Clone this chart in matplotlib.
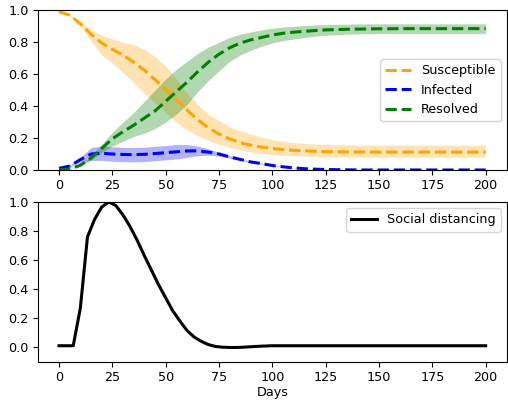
import numpy as np
import matplotlib
matplotlib.use("Agg")
import matplotlib.pyplot as plt

# ---- data ----
days = list(range(0, 205, 5))

susceptible = [0.99, 0.97, 0.915, 0.85, 0.795, 0.755, 0.72, 0.675, 0.625, 0.565,
               0.505, 0.44, 0.375, 0.315, 0.265, 0.225, 0.195, 0.17, 0.155, 0.143,
               0.135, 0.128, 0.123, 0.12, 0.117, 0.115, 0.114, 0.113, 0.113, 0.112,
               0.112, 0.112, 0.112, 0.112, 0.112, 0.112, 0.112, 0.112, 0.112, 0.112, 0.112]
susceptible_hi = [0.99, 0.975, 0.93, 0.88, 0.845, 0.82, 0.80, 0.785, 0.755, 0.71,
                  0.65, 0.57, 0.48, 0.41, 0.35, 0.31, 0.27, 0.245, 0.225, 0.205,
                  0.19, 0.18, 0.172, 0.166, 0.162, 0.16, 0.158, 0.157, 0.156, 0.155,
                  0.155, 0.155, 0.155, 0.155, 0.155, 0.155, 0.155, 0.155, 0.155, 0.155, 0.155]
susceptible_lo = [0.99, 0.965, 0.90, 0.81, 0.72, 0.67, 0.61, 0.55, 0.48, 0.42,
                  0.36, 0.30, 0.25, 0.215, 0.185, 0.16, 0.142, 0.125, 0.113, 0.103,
                  0.096, 0.092, 0.089, 0.087, 0.086, 0.085, 0.084, 0.083, 0.083, 0.082,
                  0.082, 0.082, 0.082, 0.082, 0.082, 0.082, 0.082, 0.082, 0.082, 0.082, 0.082]

infected = [0.01, 0.025, 0.065, 0.1, 0.105, 0.1, 0.097, 0.096, 0.098, 0.103,
            0.108, 0.114, 0.119, 0.12, 0.112, 0.1, 0.082, 0.066, 0.05, 0.04,
            0.028, 0.02, 0.013, 0.008, 0.005, 0.003, 0.002, 0.001, 0.0, 0.0,
            0.0, 0.0, 0.0, 0.0, 0.0, 0.0, 0.0, 0.0, 0.0, 0.0, 0.0]
infected_hi = [0.013, 0.03, 0.08, 0.14, 0.15, 0.145, 0.142, 0.141, 0.143, 0.148,
               0.153, 0.159, 0.159, 0.15, 0.132, 0.112, 0.09, 0.071, 0.054, 0.043,
               0.03, 0.021, 0.014, 0.009, 0.006, 0.004, 0.002, 0.001, 0.0, 0.0,
               0.0, 0.0, 0.0, 0.0, 0.0, 0.0, 0.0, 0.0, 0.0, 0.0, 0.0]
infected_lo = [0.007, 0.02, 0.05, 0.06, 0.06, 0.055, 0.052, 0.051, 0.053, 0.058,
               0.063, 0.069, 0.079, 0.09, 0.092, 0.088, 0.074, 0.061, 0.046, 0.037,
               0.026, 0.019, 0.012, 0.007, 0.004, 0.002, 0.001, 0.0, 0.0, 0.0,
               0.0, 0.0, 0.0, 0.0, 0.0, 0.0, 0.0, 0.0, 0.0, 0.0, 0.0]

resolved = [0.0, 0.005, 0.03, 0.075, 0.135, 0.195, 0.24, 0.28, 0.325, 0.37,
            0.43, 0.49, 0.55, 0.615, 0.675, 0.725, 0.765, 0.795, 0.815, 0.83,
            0.845, 0.856, 0.863, 0.868, 0.873, 0.877, 0.879, 0.881, 0.882, 0.883,
            0.884, 0.884, 0.885, 0.885, 0.885, 0.885, 0.885, 0.885, 0.885, 0.885, 0.885]
resolved_hi = [0.0, 0.005, 0.035, 0.09, 0.16, 0.235, 0.30, 0.36, 0.43, 0.50,
               0.57, 0.63, 0.68, 0.73, 0.77, 0.80, 0.83, 0.85, 0.865, 0.877,
               0.887, 0.895, 0.90, 0.905, 0.908, 0.91, 0.912, 0.913, 0.914, 0.915,
               0.915, 0.915, 0.915, 0.915, 0.915, 0.915, 0.915, 0.915, 0.915, 0.915, 0.915]
resolved_lo = [0.0, 0.005, 0.025, 0.06, 0.11, 0.15, 0.18, 0.21, 0.23, 0.26,
               0.30, 0.35, 0.41, 0.49, 0.56, 0.62, 0.68, 0.72, 0.75, 0.775,
               0.795, 0.81, 0.82, 0.83, 0.838, 0.843, 0.847, 0.85, 0.852, 0.853,
               0.854, 0.855, 0.855, 0.855, 0.855, 0.855, 0.855, 0.855, 0.855, 0.855, 0.855]

sd_days = [i * 10 / 3 for i in range(61)]
social_distancing = [0.01, 0.01, 0.01, 0.27, 0.76, 0.88, 0.965, 1.0, 0.975, 0.91,
                     0.83, 0.735, 0.63, 0.53, 0.43, 0.34, 0.25, 0.18, 0.115, 0.07,
                     0.04, 0.018, 0.005, 0.0, -0.002, -0.002, 0.0, 0.003, 0.006, 0.008,
                     0.01, 0.01, 0.01, 0.01, 0.01, 0.01, 0.01, 0.01, 0.01, 0.01,
                     0.01, 0.01, 0.01, 0.01, 0.01, 0.01, 0.01, 0.01, 0.01, 0.01,
                     0.01, 0.01, 0.01, 0.01, 0.01, 0.01, 0.01, 0.01, 0.01, 0.01, 0.01]

xticks = [0, 25, 50, 75, 100, 125, 150, 175, 200]

# ---- plotting ----
plt.rcParams['font.family'] = ['DejaVu Sans']
plt.rcParams['font.size'] = 9.2
plt.rcParams['xtick.major.pad'] = 3.0
plt.rcParams['ytick.major.pad'] = 3.0

fig = plt.figure(figsize=(5.08, 4.01), dpi=100)
ax1 = fig.add_axes([0.0742, 0.5761, 0.9238, 0.3983])
ax2 = fig.add_axes([0.0742, 0.098, 0.9238, 0.3983])

lw = 2.2
ax1.fill_between(days, susceptible_lo, susceptible_hi, color='orange', alpha=0.3, lw=0)
ax1.fill_between(days, infected_lo, infected_hi, color='blue', alpha=0.3, lw=0)
ax1.fill_between(days, resolved_lo, resolved_hi, color='green', alpha=0.3, lw=0)
ax1.plot(days, susceptible, '--', color='orange', lw=lw, label='Susceptible')
ax1.plot(days, infected, '--', color='blue', lw=lw, label='Infected')
ax1.plot(days, resolved, '--', color='green', lw=lw, label='Resolved')
ax1.set_ylim(0, 1)
ax1.set_xlim(-10, 210)
ax1.set_xticks(xticks)
ax1.legend(loc='center right')

ax2.plot(sd_days, social_distancing, '-', color='black', lw=lw, label='Social distancing')
ax2.set_ylim(-0.1, 1.0)
ax2.set_xlim(-10, 210)
ax2.set_xticks(xticks)
ax2.set_xlabel('Days', labelpad=1.5)
ax2.legend(loc='upper right')

fig.savefig('out.png', dpi=100)
